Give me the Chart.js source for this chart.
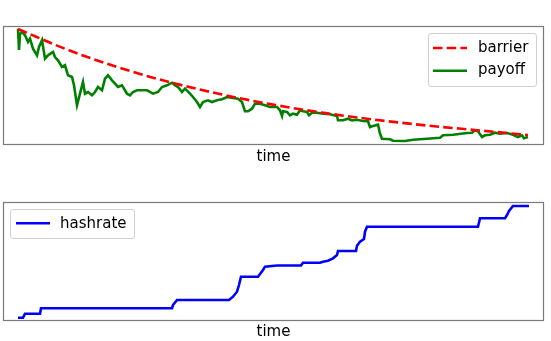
<!DOCTYPE html>
<html>
<head>
<meta charset="utf-8">
<script src="https://cdn.jsdelivr.net/npm/chart.js@4/dist/chart.umd.min.js"></script>
<style>
  body { margin: 0; background: #fff; }
  #wrap { position: relative; width: 551px; height: 341px; font-family: 'DejaVu Sans', sans-serif; color: #000; }
  canvas { position: absolute; left: 0; }
  .txt { position: absolute; font-size: 15px; line-height: 15px; white-space: nowrap; }
  .legbox { position: absolute; border: 1px solid #d0d0d0; border-radius: 3px; background: rgba(255,255,255,0.8); box-sizing: border-box; }
  svg { position: absolute; left: 0; top: 0; }
</style>
</head>
<body>
<div id="wrap">
  <canvas id="top" width="551" height="150" style="top:0"></canvas>
  <canvas id="bottom" width="551" height="150" style="top:180px"></canvas>

  <div class="txt" style="left:0;width:547px;text-align:center;top:148.6px">time</div>
  <div class="txt" style="left:0;width:547px;text-align:center;top:323.6px">time</div>

  <div class="legbox" style="left:428px;top:33px;width:109px;height:54px"></div>
  <div class="legbox" style="left:10px;top:209px;width:125px;height:30px"></div>
  <svg width="551" height="341">
    <line x1="433" y1="48" x2="467" y2="48" stroke="#ff0000" stroke-width="2.6" stroke-dasharray="9.5 4.2"/>
    <line x1="433" y1="70.7" x2="467" y2="70.7" stroke="#008000" stroke-width="2.6"/>
    <line x1="16" y1="223.3" x2="50" y2="223.3" stroke="#0000ff" stroke-width="2.6"/>
  </svg>
  <div class="txt" style="left:478px;top:40.3px">barrier</div>
  <div class="txt" style="left:478px;top:62.3px">payoff</div>
  <div class="txt" style="left:60px;top:215.6px">hashrate</div>
</div>
<script>
// time in days
var payoffTime = [0, 1, 2, 4, 7, 10, 12, 15, 19, 21, 24, 27, 30, 35, 37, 40, 44, 47, 50, 54,
  56, 59, 62, 65, 67, 70, 74, 77, 80, 84, 87, 90, 94, 97, 100, 104, 109, 112, 115, 119,
  124, 129, 135, 140, 144, 149, 154, 157, 160, 164, 167, 172, 175, 179, 182, 185, 190, 194, 199, 204,
  209, 215, 220, 224, 227, 230, 234, 237, 242, 247, 252, 259, 262, 264, 265, 269, 272, 275, 279, 282,
  285, 289, 291, 294, 299, 305, 312, 319, 320, 325, 330, 334, 339, 345, 350, 352, 355, 360, 362, 364,
  372, 375, 387, 395, 409, 422, 425, 435, 449, 454, 457, 460, 464, 467, 472, 477, 482, 489, 495, 500,
  504, 506, 510];
var payoffValue = [1.163, 0.95, 1.11, 1.13, 1.097, 1.03, 1.063, 0.963, 0.897, 0.98, 1.047, 0.863, 0.897, 0.93, 0.88, 0.847, 0.78, 0.797, 0.697, 0.68,
  0.597, 0.397, 0.513, 0.63, 0.513, 0.53, 0.497, 0.53, 0.58, 0.547, 0.663, 0.697, 0.647, 0.613, 0.58, 0.597, 0.513, 0.497, 0.53, 0.547,
  0.547, 0.547, 0.513, 0.53, 0.58, 0.597, 0.623, 0.597, 0.58, 0.53, 0.563, 0.513, 0.48, 0.43, 0.38, 0.43, 0.447, 0.43, 0.447, 0.457,
  0.48, 0.47, 0.463, 0.43, 0.337, 0.337, 0.363, 0.413, 0.413, 0.397, 0.38, 0.38, 0.347, 0.29, 0.337, 0.33, 0.297, 0.313, 0.303, 0.347,
  0.337, 0.33, 0.297, 0.323, 0.323, 0.313, 0.307, 0.29, 0.247, 0.247, 0.263, 0.247, 0.253, 0.24, 0.237, 0.18, 0.19, 0.203, 0.113, 0.063,
  0.057, 0.043, 0.04, 0.053, 0.063, 0.073, 0.097, 0.103, 0.12, 0.123, 0.147, 0.137, 0.08, 0.097, 0.103, 0.123, 0.113, 0.12, 0.103, 0.08,
  0.097, 0.067, 0.08];

var barrierTime = [0, 51, 102, 153, 204, 255, 306, 357, 408, 459, 510];
var barrierValue = [1.16, 0.947, 0.771, 0.625, 0.505, 0.404, 0.321, 0.253, 0.196, 0.148, 0.10];

var hashrateTime = [0, 5, 7, 22, 23, 154, 155, 159, 211, 215, 219, 221, 223, 240, 245, 247, 259, 283, 285, 302,
  305, 310, 315, 319, 320, 338, 339, 342, 346, 347, 349, 460, 462, 487, 489, 491, 495, 511];
var hashrateValue = [0.33, 0.33, 0.73, 0.73, 1.27, 1.27, 1.6, 2.1, 2.1, 2.43, 2.93, 3.6, 4.43, 4.43, 5.1, 5.43, 5.55, 5.55, 5.83, 5.83,
  5.93, 6.03, 6.27, 6.6, 7.0, 7.0, 7.53, 7.93, 8.2, 8.93, 9.43, 9.43, 10.27, 10.27, 10.6, 11.0, 11.5, 11.5];

function pts(xs, ys) {
  return xs.map(function (x, i) { return { x: x, y: ys[i] }; });
}

// grey box round the plot area, like the matplotlib spines
var frame = {
  id: 'frame',
  afterDraw: function (chart) {
    var a = chart.chartArea, ctx = chart.ctx;
    ctx.save();
    ctx.strokeStyle = '#7a7a7a';
    ctx.lineWidth = 1.2;
    ctx.strokeRect(a.left + 0.5, a.top + 0.5, a.right - a.left - 1, a.bottom - a.top - 1);
    ctx.restore();
  }
};

function baseOptions(pad, ymax) {
  return {
    responsive: false,
    animation: false,
    layout: { padding: pad },
    plugins: { legend: { display: false }, tooltip: { enabled: false } },
    elements: { point: { radius: 0 } },
    scales: {
      x: { type: 'linear', min: -15, max: 526, display: false },
      y: { min: 0, max: ymax, display: false }
    }
  };
}

var topChart = new Chart($('top'), {
  type: 'line',
  data: {
    datasets: [{
      label: 'barrier',
      data: pts(barrierTime, barrierValue),
      borderColor: '#ff0000',
      borderWidth: 2.6,
      borderDash: [9.5, 4.2],
      cubicInterpolationMode: 'monotone',
      fill: false
    }, {
      label: 'payoff',
      data: pts(payoffTime, payoffValue),
      borderColor: '#008000',
      borderWidth: 2.6,
      tension: 0,
      fill: false
    }]
  },
  options: baseOptions({ left: 3, top: 26, right: 7, bottom: 5 }, 1.19),
  plugins: [frame]
});

var bottomChart = new Chart($('bottom'), {
  type: 'line',
  data: {
    datasets: [{
      label: 'hashrate',
      data: pts(hashrateTime, hashrateValue),
      borderColor: '#0000ff',
      borderWidth: 2.6,
      tension: 0,
      fill: false
    }]
  },
  options: baseOptions({ left: 3, top: 22, right: 7, bottom: 9 }, 11.9),
  plugins: [frame]
});

function $(id) { return document.getElementById(id); }
</script>
</body>
</html>
